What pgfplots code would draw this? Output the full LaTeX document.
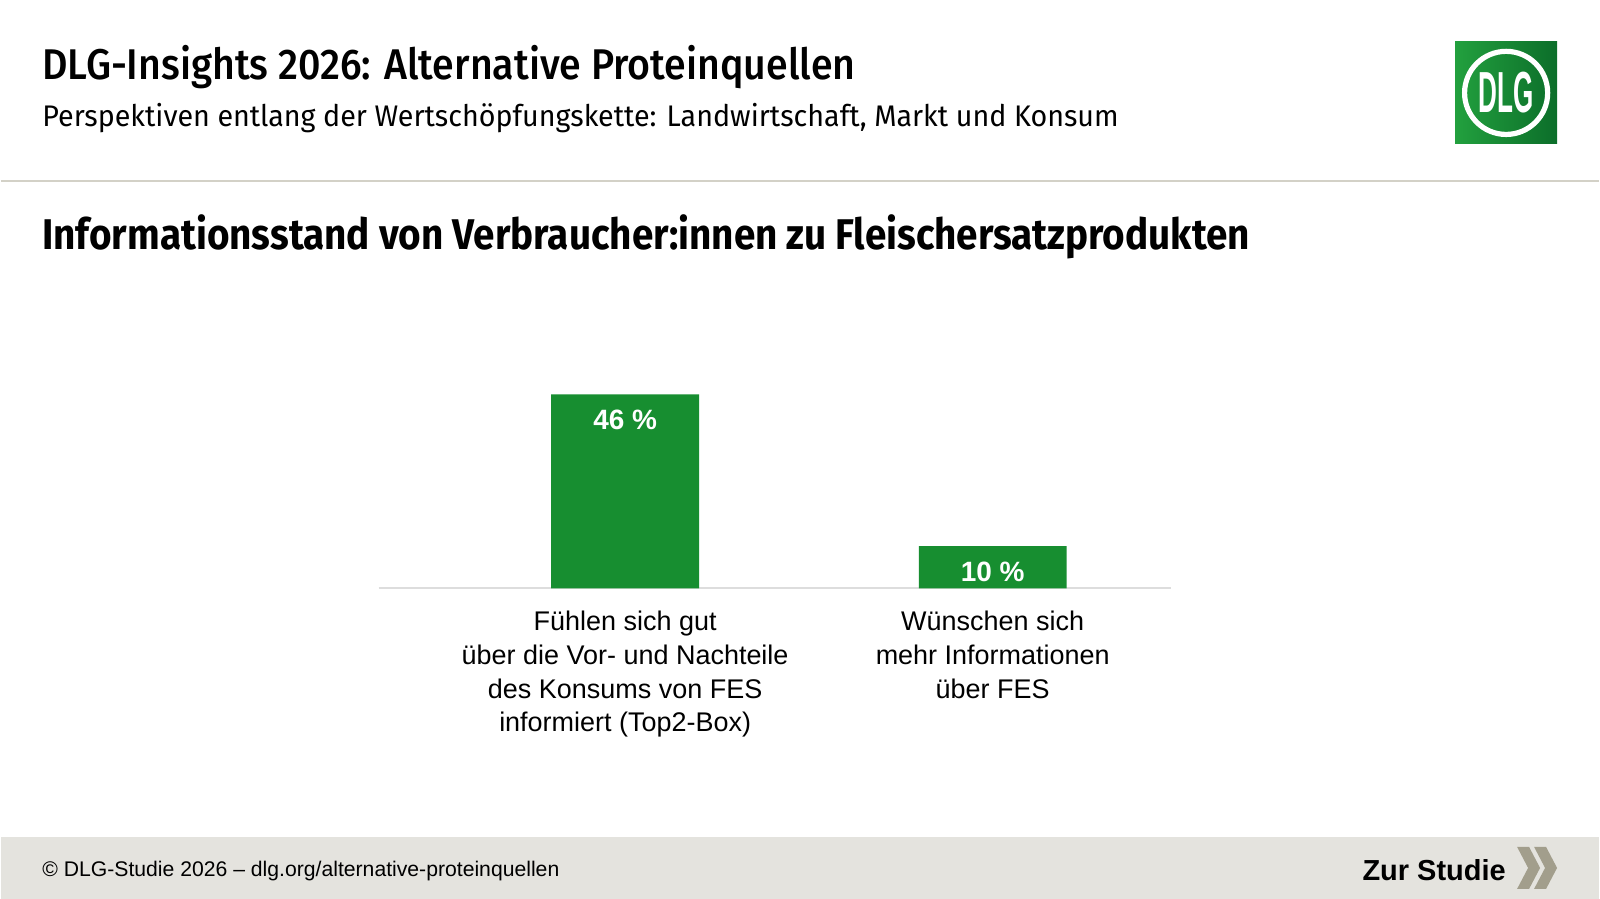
\documentclass[border=0pt]{standalone}
\usepackage{pgfplots}
\pgfplotsset{compat=1.18}
\usepackage{fontspec}
\setmainfont{Liberation Sans}
\newfontfamily\dlgfont{Fira Sans}
\newfontfamily\dlgfontmed{Fira Sans Medium}
\definecolor{bargreen}{HTML}{178E30}
\definecolor{logoA}{HTML}{22A03E}
\definecolor{logoB}{HTML}{0C6E2A}
\definecolor{sepcol}{HTML}{D3D1C7}
\definecolor{footbg}{HTML}{E4E3DE}
\definecolor{chev}{HTML}{A29E8C}
\definecolor{axisgray}{HTML}{DDDDDD}
\begin{document}
\begin{tikzpicture}
\fill[white] (0,0) rectangle (800pt,-450pt);
\fill[footbg] (0,-419pt) rectangle (800pt,-450pt);
\draw[sepcol, line width=1pt] (0,-90.5pt) -- (800pt,-90.5pt);
\node[anchor=base west, inner sep=0, xscale=0.915, font=\dlgfontmed\fontsize{21.5}{24}\selectfont] at (20.5pt,-39.8pt) {DLG-Insights 2026: Alternative Proteinquellen};
\node[anchor=base west, inner sep=0, xscale=0.963, font=\dlgfont\fontsize{14.9}{18}\selectfont] at (20.5pt,-63.3pt) {Perspektiven entlang der Wertschöpfungskette: Landwirtschaft, Markt und Konsum};
\node[anchor=base west, inner sep=0, xscale=0.9, font=\dlgfont\bfseries\fontsize{21.5}{24}\selectfont] at (20.5pt,-125pt) {Informationsstand von Verbraucher:innen zu Fleischersatzprodukten};
% logo
\shade[left color=logoA, right color=logoB] (728pt,-21pt) rectangle (779pt,-72pt);
\draw[white, line width=2.6pt] (753.5pt,-46.5pt) circle (20.8pt);
\node[white, font=\bfseries\fontsize{29}{29}\selectfont, xscale=0.45, inner sep=0] at (753.5pt,-46.5pt) {DLG};
% footer
\node[anchor=base west, inner sep=0, font=\fontsize{10.6}{12}\selectfont] at (20.5pt,-438.8pt) {© DLG-Studie 2026 – dlg.org/alternative-proteinquellen};
\node[anchor=base east, inner sep=0, font=\bfseries\fontsize{14.5}{16}\selectfont] at (753.5pt,-440.8pt) {Zur Studie};
\fill[chev] (759pt,-424pt) -- (765pt,-424pt) -- (770.5pt,-434.5pt) -- (765pt,-445pt) -- (759pt,-445pt) -- (764.5pt,-434.5pt) -- cycle;
\fill[chev] (767.5pt,-424pt) -- (773.5pt,-424pt) -- (779pt,-434.5pt) -- (773.5pt,-445pt) -- (767.5pt,-445pt) -- (773pt,-434.5pt) -- cycle;
\begin{axis}[
  at={(189pt,-294.5pt)}, anchor=south west,
  scale only axis, width=396.5pt, height=97.06pt,
  xmin=-0.671, xmax=1.484, ymin=0, ymax=46,
  ybar, bar width=74pt,
  axis y line=none, axis x line=bottom,
  x axis line style={draw=axisgray, line width=0.8pt, -},
  xtick=data, major tick length=0,
  xticklabels={{Fühlen sich gut\\über die Vor- und Nachteile\\des Konsums von FES\\informiert (Top2-Box)},{Wünschen sich\\mehr Informationen\\über FES}},
  xticklabel style={align=center, font=\fontsize{13.5}{16.8}\selectfont, anchor=north, inner sep=0, yshift=-11.4pt},
  clip=false,
  /pgf/number format/assume math mode=true,
  nodes near coords={\pgfmathprintnumber{\pgfplotspointmeta}~\%},
  nodes near coords align={below},
  every node near coord/.append style={font=\bfseries\fontsize{14}{14}\selectfont, text=white, inner sep=0, yshift=-7.8pt},
]
\addplot[fill=bargreen, draw=none] coordinates {(0,46) (1,10)};
\end{axis}
\end{tikzpicture}
\end{document}
